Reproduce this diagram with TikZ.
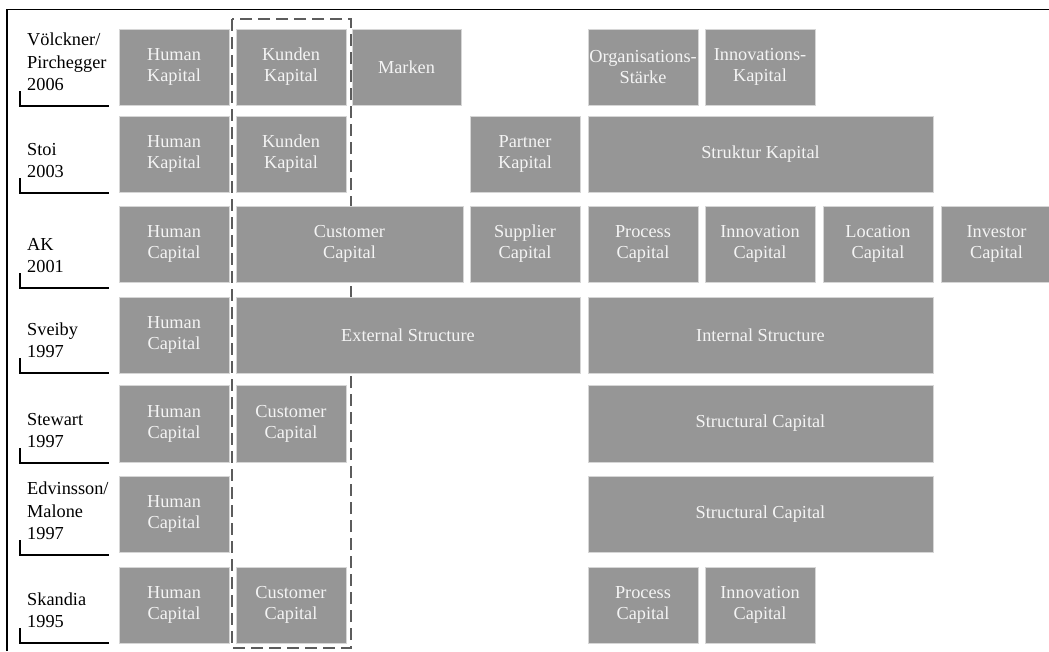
\documentclass[tikz,border=0pt]{standalone}
\usepackage{fontspec}
\setmainfont{Liberation Serif}
\definecolor{boxgray}{HTML}{969696}
\definecolor{boxedge}{HTML}{D6D6D6}
\definecolor{dashgray}{HTML}{5C5C5C}
\definecolor{boxtext}{HTML}{F4F4F4}
\newcommand\boxat[6]{\node[cbox, minimum width={#4-#2}, minimum height={#5-#3}] (#1) at ({(#2+#4)/2},{(#3+#5)/2}) {#6};}
\newcommand\rowlabel[3]{\node[rlabel] (#1) at (27,{#2-15}) {#3};
  \draw[bracket] (20,{#2-15}) -- (20,#2) -- (109,#2);}
\begin{document}
\begin{tikzpicture}[x=1pt,y=-1pt,
  cbox/.style={fill=boxgray, draw=boxedge, line width=0.9pt, inner sep=0pt, outer sep=0pt,
    text=boxtext, align=center, font=\fontsize{18.3}{21}\selectfont},
  rlabel/.style={anchor=south west, inner sep=0pt, align=left, text depth=0pt,
    font=\fontsize{18.3}{22.5}\selectfont},
  bracket/.style={draw=black, line width=1.3pt},
  frameline/.style={draw=black, line width=1.4pt},
  dashbox/.style={draw=dashgray, line width=2pt, dash pattern=on 12pt off 6pt}]
\useasboundingbox (0,0) rectangle (1049,651);
\draw[frameline] (7,651) -- (7,9.5) -- (1049,9.5);
\draw[dashbox] (232,19) rectangle (351,648);
% row 1
\boxat{a1}{119}{29}{229}{105}{Human\\Kapital}
\boxat{a2}{236}{29}{346}{105}{Kunden\\Kapital}
\boxat{a3}{352}{29}{461}{105}{Marken}
\boxat{a5}{588}{29}{698}{105}{Organisations-\\Stärke}
\boxat{a6}{705}{29}{815}{105}{Innovations-\\Kapital}
% row 2
\boxat{b1}{119}{116}{229}{192}{Human\\Kapital}
\boxat{b2}{236}{116}{346}{192}{Kunden\\Kapital}
\boxat{b4}{470}{116}{580}{192}{Partner\\Kapital}
\boxat{b5}{588}{116}{933}{192}{Struktur Kapital}
% row 3
\boxat{c1}{119}{206}{229}{282}{Human\\Capital}
\boxat{c2}{236}{206}{463}{282}{Customer\\Capital}
\boxat{c4}{470}{206}{580}{282}{Supplier\\Capital}
\boxat{c5}{588}{206}{698}{282}{Process\\Capital}
\boxat{c6}{705}{206}{815}{282}{Innovation\\Capital}
\boxat{c7}{823}{206}{933}{282}{Location\\Capital}
\boxat{c8}{941}{206}{1052}{282}{Investor\\Capital}
% row 4
\boxat{d1}{119}{297}{229}{373}{Human\\Capital}
\boxat{d2}{236}{297}{580}{373}{External Structure}
\boxat{d5}{588}{297}{933}{373}{Internal Structure}
% row 5
\boxat{e1}{119}{385}{229}{462}{Human\\Capital}
\boxat{e2}{236}{385}{346}{462}{Customer\\Capital}
\boxat{e5}{588}{385}{933}{462}{Structural Capital}
% row 6
\boxat{f1}{119}{476}{229}{552}{Human\\Capital}
\boxat{f5}{588}{476}{933}{552}{Structural Capital}
% row 7
\boxat{g1}{119}{567}{229}{643}{Human\\Capital}
\boxat{g2}{236}{567}{346}{643}{Customer\\Capital}
\boxat{g5}{588}{567}{698}{643}{Process\\Capital}
\boxat{g6}{705}{567}{815}{643}{Innovation\\Capital}
% labels
\rowlabel{la}{106}{Völckner/\\Pirchegger\\2006}
\rowlabel{lb}{193}{Stoi\\2003}
\rowlabel{lc}{288}{AK\\2001}
\rowlabel{ld}{373}{Sveiby\\1997}
\rowlabel{le}{463}{Stewart\\1997}
\rowlabel{lf}{555}{Edvinsson/\\Malone\\1997}
\rowlabel{lg}{643}{Skandia\\1995}
\end{tikzpicture}
\end{document}
